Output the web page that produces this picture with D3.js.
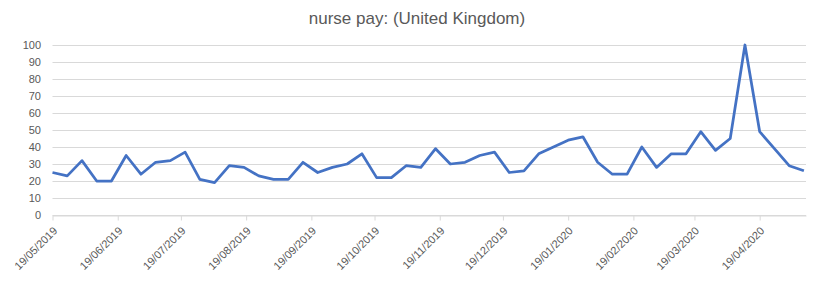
<!DOCTYPE html>
<html>
<head>
<meta charset="utf-8">
<script src="https://cdn.jsdelivr.net/npm/d3@7"></script>
<style>
  body { margin: 0; background: #fff; }
  svg { font-family: "Liberation Sans", Arial, sans-serif; }
</style>
</head>
<body>
<div id="chart"></div>
<script>
// weekly values, first week 19/05/2019
var startDate = "2019-05-19";
var payValues = [25, 23, 32, 20, 20, 35, 24, 31, 32, 37,
                 21, 19, 29, 28, 23, 21, 21, 31, 25, 28,
                 30, 36, 22, 22, 29, 28, 39, 30, 31, 35,
                 37, 25, 26, 36, 40, 44, 46, 31, 24, 24,
                 40, 28, 36, 36, 49, 38, 45, 100, 49, 39,
                 29, 26];
var tickLabels = ["19/05/2019", "19/06/2019", "19/07/2019", "19/08/2019", "19/09/2019",
                  "19/10/2019", "19/11/2019", "19/12/2019", "19/01/2020", "19/02/2020",
                  "19/03/2020", "19/04/2020"];
var yTicks = [0, 10, 20, 30, 40, 50, 60, 70, 80, 90, 100];

var width = 828, height = 281;
var margin = {top: 45, right: 22, bottom: 66, left: 52.5};

var parse = d3.utcParse("%d/%m/%Y");
var first = d3.utcParse("%Y-%m-%d")(startDate);
var data = payValues.map(function (v, i) {
    return {date: d3.utcDay.offset(first, i * 7), value: v};
});

var svg = d3.select("#chart").append("svg")
    .attr("width", width)
    .attr("height", height);

var x = d3.scaleUtc()
    .domain([data[0].date, d3.utcDay.offset(data[data.length - 1].date, 1)])
    .range([margin.left, width - margin.right]);

var y = d3.scaleLinear()
    .domain([0, 100])
    .range([height - margin.bottom, margin.top]);

// title
svg.append("text")
    .attr("x", 417)
    .attr("y", 24)
    .attr("text-anchor", "middle")
    .style("font-size", "17px")
    .style("fill", "#595959")
    .text("nurse pay: (United Kingdom)");

// gridlines
svg.append("g").selectAll("line").data(yTicks).enter().append("line")
    .attr("x1", margin.left)
    .attr("x2", width - margin.right)
    .attr("y1", function (d) { return Math.round(y(d)) + 0.5; })
    .attr("y2", function (d) { return Math.round(y(d)) + 0.5; })
    .style("stroke", "#d9d9d9")
    .style("stroke-width", 1);

// y labels
svg.append("g").selectAll("text").data(yTicks).enter().append("text")
    .attr("x", 41)
    .attr("y", function (d) { return y(d) + 4; })
    .attr("text-anchor", "end")
    .style("font-size", "11px")
    .style("fill", "#595959")
    .text(function (d) { return d; });

// x axis
var xAxis = d3.axisBottom(x)
    .tickValues(tickLabels.map(function (t) { return parse(t); }))
    .tickFormat(d3.utcFormat("%d/%m/%Y"))
    .tickSize(5)
    .tickSizeOuter(0);

var gx = svg.append("g")
    .attr("transform", "translate(0," + (Math.round(y(0)) + 0.5) + ")")
    .call(xAxis);
gx.select(".domain").style("stroke", "#d9d9d9");
gx.selectAll(".tick line").style("stroke", "#d9d9d9");
gx.selectAll(".tick text")
    .style("font-size", "11px")
    .style("fill", "#595959")
    .style("font-family", "Liberation Sans, Arial, sans-serif")
    .attr("text-anchor", "end")
    .attr("dy", null)
    .attr("y", 0)
    .attr("transform", "translate(5,16) rotate(-45)");

// line
var line = d3.line()
    .x(function (d) { return x(d.date); })
    .y(function (d) { return y(d.value); });

svg.append("path")
    .datum(data)
    .attr("d", line)
    .style("fill", "none")
    .style("stroke", "#4472c4")
    .style("stroke-width", 2.75)
    .style("stroke-linejoin", "round");
</script>
</body>
</html>
